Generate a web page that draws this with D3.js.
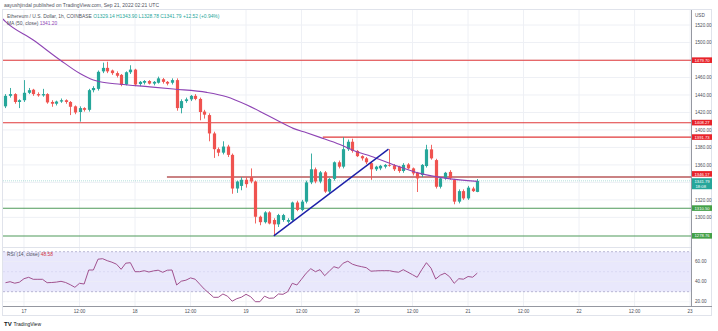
<!DOCTYPE html>
<html><head><meta charset="utf-8">
<script src="https://cdn.jsdelivr.net/npm/d3@7"></script>
<style>body{margin:0;background:#fff;} svg{display:block;font-family:"Liberation Sans",Arial,sans-serif;}</style>
</head><body><svg id="c" width="718" height="331"></svg>
<script>
// ---------- data ----------
const firstCandleUTC = Date.UTC(2022, 8, 16, 20); // 16 Sep 2022 20:00 UTC, 1h candles
const opens = [1427,1439,1441,1432,1434,1442.5,1446,1441,1439.5,1441,
1432,1430,1432.5,1434,1432,1427,1420.5,1425,1423,1445.5,
1447,1467,1471,1468,1465,1463,1452,1466,1469,1452.5,
1454,1456,1453,1454,1458,1455,1454,1457,1425,1433,
1435,1439,1435.5,1421,1417,1396,1378,1374,1381,1371.5,
1333,1336,1343,1346,1341,1300.7,1294.5,1305.7,1297,1292,
1297,1295,1297,1317,1308.5,1318,1340,1355,1341,1351.5,
1329.5,1344,1363,1358,1378,1386.5,1376,1370,1367.5,1362,
1355,1356,1358,1360,1359.5,1358,1353,1360.5,1356,1351,
1348.4,1358.7,1377.8,1365.5,1335,1344.6,1352,1342.7,1318,1330,
1321.7,1333,1329.14];
const highs = [1441,1448,1442,1435,1457,1448,1447,1443,1447,1442,
1434,1433.5,1436,1435,1433,1428,1427,1426,1447,1450,
1468,1477,1478,1469,1467,1464,1467,1474,1470,1456,
1457,1457,1456,1461,1459.5,1456,1459,1459,1435,1437,
1440,1441,1437,1423,1419,1398,1380,1387,1383,1373,
1342,1346,1346,1356,1342,1302,1307,1307,1299,1304,
1304,1299,1318,1319,1320,1342,1373,1357,1353,1353,
1345,1364,1365,1391.73,1389,1390,1377,1371,1369,1364,
1359,1360,1361,1378,1361,1359,1362,1362,1357,1352,
1361,1383,1383,1367,1346,1352,1354,1344,1332,1332,
1336,1335,1343.9];
const lows = [1425,1437,1430,1425,1432,1441,1439,1438,1438,1430,
1426.5,1428,1431,1430,1417,1418,1409.5,1421,1421,1443,
1445,1465,1465,1463,1460,1450,1451,1464,1450,1450,
1452,1452,1451,1453,1453,1451,1452,1422,1419,1431,
1433,1434,1411,1413,1387,1368,1370,1372,1369,1327,
1328,1331,1334,1339,1293,1291,1293,1292,1278.76,1289,
1295,1293,1295,1307,1307,1316,1338,1339,1339,1328,
1327,1342,1356,1356,1376,1374,1369,1365,1361,1343,
1353,1354,1356,1358,1353,1351,1351,1355,1348,1329,
1346,1357,1366,1333,1333,1343,1343,1315,1316,1320,
1320,1329,1328.78];
const closes = [1439,1441,1432,1434,1442.5,1445.5,1441,1439.5,1441,1431.5,
1430,1432.5,1434,1432,1426.5,1420,1425,1423,1445.5,1448,
1466.5,1471,1467,1465,1462,1451.5,1466,1469,1452,1455,
1456,1453,1455,1459,1455,1453,1457,1425,1433,1435,
1439,1435.5,1420.5,1417.5,1396,1378,1374,1381,1371.5,1333,
1341,1343,1338,1341,1300.7,1294.5,1305.7,1293,1292,1302.6,
1302.6,1297,1317,1308.5,1318,1340,1355,1341,1351.5,1329.5,
1344,1363,1358,1378,1386.5,1376,1370,1367.5,1363,1355,
1358,1359,1360,1359.5,1355,1353,1360,1356,1350.3,1344.6,
1360,1377.8,1367.5,1335,1344.6,1351,1345,1318,1330,1321.7,
1334,1330,1341.79];
const rsiValues = [39,40,38.5,39.5,43,44.4,42.4,42.4,42.4,39,
39.2,39.6,40.4,39.2,37,34.4,38.4,37.7,51.7,51.7,
62.5,63,61,59.5,57.5,52.4,58.5,59,50,50,
51,49.7,50.8,51.5,49.4,51.5,51.7,36.7,40.5,41.5,
43.8,42.5,37.5,32.5,28.5,24.4,24.4,27.7,25.5,20.5,
23,24.5,27.4,25,20,20,25.5,23.4,23.7,27.7,
27.4,30,38.4,36.7,42.5,48.5,53,50,52,46,
50.5,55,53.5,58.5,60.5,57.5,56,55,54,50.5,
50.8,51,51,51,50,49.5,52,49.5,47,44.4,
52,59,53.5,42.7,46.5,48.5,45,38.4,43,42.5,
45.2,44.5,48.58];
// MA(50): [hours after first candle, value]
const maHours  = [-0.6,0,6,11.8,16.1,19,20.4,24.8,31.2,36.3,43.5,47.8,52.2,56.5,59.3,62.2,65.1,68,72.3,75.9,79,84,89.6,95.4,102];
const maValues = [1527,1523.8,1502.8,1480,1464.5,1457.1,1455.1,1452.2,1449.3,1446.8,1443,1438,1428.5,1417,1409.4,1401.8,1396.8,1391.5,1383.3,1375,1370,1360,1350.3,1344.6,1341.2];
const priceTicks = [1300,1320,1340,1360,1380,1400,1420,1440,1460,1480,1500,1520];
const rsiTicks = [20,40,60];
const resistanceLevels = [1479.70,1408.27,1391.73,1346.17];
const resistanceFromHour = [null,null,68.6,34.9];
const supportLevels = [1310.50,1278.76];
const trendHours = [58,82.8];
const trendPrices = [1278.76,1378];
const lastPrice = 1341.79, maLast = 1341.20, rsiLast = 48.58;

// ---------- chart ----------
const H = 3600e3;
const t = h => new Date(firstCandleUTC + h*H);
const svg = d3.select('#c');
const L = 3, R = 691, PT = 10, PB = 247, RT = 248, RB = 306;
const x = d3.scaleUtc().domain([t(-0.54), t(148.2)]).range([L, R]);
const y = d3.scaleLinear().domain([1266.1, 1537.2]).range([PB, PT]);
const yr = d3.scaleLinear().domain([15.7, 73.7]).range([RB, RT]);
const UP = '#26a69a', DN = '#ef5350', GRID = '#eef0f5', TXT = '#4a4d57';

svg.append('rect').attr('x',0).attr('y',0).attr('width',718).attr('height',331).attr('fill','#fff');
svg.append('rect').attr('x',L-0.5).attr('y',PT-0.5).attr('width',712-L).attr('height',316-PT).attr('fill','none').attr('stroke','#e0e3eb');

const defs = svg.append('defs');
defs.append('clipPath').attr('id','pc').append('rect').attr('x',L).attr('y',PT).attr('width',R-L).attr('height',PB-PT);
defs.append('clipPath').attr('id','rc').append('rect').attr('x',L).attr('y',RT).attr('width',R-L).attr('height',RB-RT);

// time ticks
const ticks = d3.utcHour.every(12).range(x.domain()[0], x.domain()[1]);
const fmt = d => d.getUTCHours() === 0 ? d3.utcFormat('%-d')(d) : '12:00';
const gridG = svg.append('g');
ticks.forEach(d => {
  gridG.append('line').attr('x1',x(d)).attr('x2',x(d)).attr('y1',PT).attr('y2',RB).attr('stroke',GRID).attr('stroke-width',1);
});
priceTicks.forEach(p => {
  gridG.append('line').attr('x1',L).attr('x2',R).attr('y1',y(p)).attr('y2',y(p)).attr('stroke',GRID);
});
// RSI pane
const rg = svg.append('g').attr('clip-path','url(#rc)');
rg.append('rect').attr('x',L).attr('width',R-L).attr('y',yr(70)).attr('height',yr(30)-yr(70)).attr('fill','#e9e8fc');
[70,50,30].forEach(v => rg.append('line').attr('x1',L).attr('x2',R).attr('y1',yr(v)).attr('y2',yr(v))
  .attr('stroke', v===50 ? '#d6d4f0' : '#a9a6c9').attr('stroke-dasharray','2,2').attr('stroke-width',0.8));
rsiTicks.forEach(v => rg.append('line').attr('x1',L).attr('x2',R).attr('y1',yr(v)).attr('y2',yr(v)).attr('stroke',GRID).attr('stroke-opacity',0.6));
rg.append('path').datum(rsiValues).attr('fill','none').attr('stroke','#a1528f').attr('stroke-width',1)
  .attr('d', d3.line().x((v,i)=>x(t(i))).y(v=>yr(v)));

// pane separators and axes
svg.append('line').attr('x1',L).attr('x2',R).attr('y1',PB+0.5).attr('y2',PB+0.5).attr('stroke','#e0e3eb');
svg.append('line').attr('x1',L).attr('x2',712).attr('y1',RB+0.5).attr('y2',RB+0.5).attr('stroke','#9598a1');
svg.append('line').attr('x1',R+0.5).attr('x2',R+0.5).attr('y1',PT).attr('y2',RB).attr('stroke','#9598a1');

// price pane
const pg = svg.append('g').attr('clip-path','url(#pc)');
// last price dotted
pg.append('line').attr('x1',L).attr('x2',R).attr('y1',y(lastPrice)).attr('y2',y(lastPrice)).attr('stroke',UP).attr('stroke-opacity',0.35).attr('stroke-dasharray','1,1');
// level lines
resistanceLevels.forEach((p,i) => {
  const x0 = resistanceFromHour[i] == null ? L : x(t(resistanceFromHour[i]));
  pg.append('line').attr('x1',x0).attr('x2',R).attr('y1',y(p)).attr('y2',y(p))
    .attr('stroke', i===3 ? '#b9585a' : '#e0383a').attr('stroke-width', i===3 ? 1.3 : 1.1);
});
supportLevels.forEach(p => {
  pg.append('line').attr('x1',L).attr('x2',R).attr('y1',y(p)).attr('y2',y(p)).attr('stroke','#4f9a5a').attr('stroke-width',1.1);
});
// candles
const idx = d3.range(opens.length);
const bw = 3.2;
pg.selectAll('line.w').data(idx).join('line').attr('class','w')
  .attr('x1',i=>Math.round(x(t(i)))+0.5).attr('x2',i=>Math.round(x(t(i)))+0.5)
  .attr('y1',i=>y(highs[i])).attr('y2',i=>y(lows[i]))
  .attr('stroke',i=>closes[i]>=opens[i]?UP:DN).attr('stroke-width',0.9);
pg.selectAll('rect.b').data(idx).join('rect').attr('class','b')
  .attr('x',i=>Math.round(x(t(i)))+0.5-bw/2).attr('width',bw)
  .attr('y',i=>y(Math.max(opens[i],closes[i])))
  .attr('height',i=>Math.max(0.8, Math.abs(y(opens[i])-y(closes[i]))))
  .attr('fill',i=>closes[i]>=opens[i]?UP:DN);
// MA
pg.append('path').datum(d3.range(maHours.length)).attr('fill','none').attr('stroke','#8e44b4').attr('stroke-width',1.1)
  .attr('d', d3.line().curve(d3.curveMonotoneX).x(i=>x(t(maHours[i]))).y(i=>y(maValues[i])));
// trendline
pg.append('line').attr('x1',x(t(trendHours[0]))).attr('y1',y(trendPrices[0]))
  .attr('x2',x(t(trendHours[1]))).attr('y2',y(trendPrices[1])).attr('stroke','#1c1fa8').attr('stroke-width',1.4);

// price axis labels (tick labels hidden where a price badge covers them)
const badgePrices = resistanceLevels.concat(supportLevels, [lastPrice]);
const ax = svg.append('g').attr('font-size',4.6).attr('fill',TXT);
ax.append('text').attr('x',695).attr('y',16.5).text('USD');
priceTicks.filter(p => badgePrices.every(b => Math.abs(y(p) - y(b)) > 4.5))
  .forEach(p => ax.append('text').attr('x',695).attr('y',y(p)+1.7).text(p.toFixed(2)));
rsiTicks.forEach(v => ax.append('text').attr('x',695).attr('y',yr(v)+1.7).text(v.toFixed(2)));
function badge(p, col, shift, extra){
  const yy = y(p) + shift;
  const h = extra ? 11 : 5.6;
  svg.append('rect').attr('x',692).attr('y',yy-2.9).attr('width',20).attr('height',h).attr('fill',col);
  svg.append('text').attr('x',694.5).attr('y',yy+1.5).attr('font-size',4.2).attr('fill','#fff').text(p.toFixed(2));
  if (extra) svg.append('text').attr('x',695.5).attr('y',yy+7.2).attr('font-size',4.2).attr('fill','#fff').text(extra);
}
resistanceLevels.forEach((p,i) => badge(p,'#e8232a', i===3 ? -3 : 0));
supportLevels.forEach(p => badge(p,'#43a047', 0));
badge(lastPrice, UP, 0.3, '18:08');

// time axis labels
const tx = svg.append('g').attr('font-size',4.6).attr('fill',TXT).attr('text-anchor','middle');
ticks.forEach(d => { if (x(d) > L+4 && x(d) < R+1) tx.append('text').attr('x',x(d)).attr('y',312.5).text(fmt(d)); });

// header & legends
svg.append('text').attr('x',4).attr('y',7.2).attr('font-size',5).attr('fill','#50535e')
  .text('aayushjindal published on TradingView.com, Sep 21, 2022 02:21 UTC');
const lg = svg.append('text').attr('x',7).attr('y',17.5).attr('font-size',4.9).attr('fill','#50535e');
lg.append('tspan').text('Ethereum / U.S. Dollar, 1h, COINBASE ');
lg.append('tspan').attr('fill',UP).text(' O' + opens[opens.length-1].toFixed(2) + ' H' + highs[highs.length-1].toFixed(2) + ' L' + lows[lows.length-1].toFixed(2) + ' C' + lastPrice.toFixed(2) + ' +12.52 (+0.94%)');
const lg2 = svg.append('text').attr('x',7).attr('y',24.5).attr('font-size',4.9).attr('fill','#50535e');
lg2.append('tspan').text('MA (50, close) ');
lg2.append('tspan').attr('fill','#8e44b4').text(' ' + maLast.toFixed(2));
const lg3 = svg.append('text').attr('x',7).attr('y',255.5).attr('font-size',4.9).attr('fill','#50535e');
lg3.append('tspan').text('RSI (14, close) ');
lg3.append('tspan').attr('fill','#d2383f').text(' ' + rsiLast.toFixed(2));

// TradingView logo
svg.append('text').attr('x',4).attr('y',325.5).attr('font-size',6).attr('font-weight','bold').attr('fill','#131722').text('TV');
svg.append('text').attr('x',13.5).attr('y',325.5).attr('font-size',5).attr('fill','#131722').text('TradingView');
</script></body></html>
